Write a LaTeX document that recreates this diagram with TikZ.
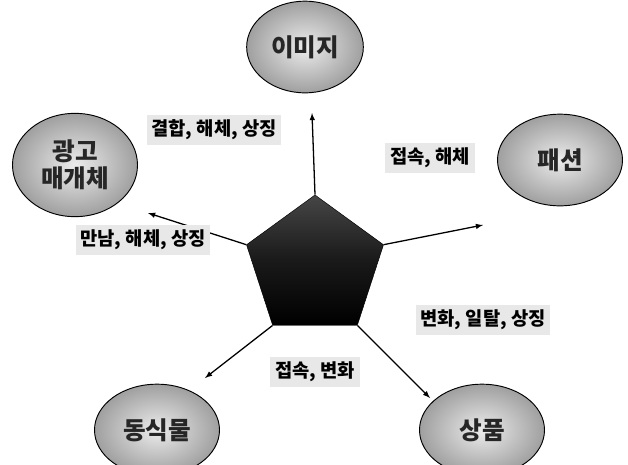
\documentclass[tikz,border=0pt]{standalone}
\usepackage{fontspec}
\setmainfont{Noto Sans CJK KR}
\usetikzlibrary{shapes.geometric}

\tikzset{
  bubble/.style={ellipse, draw=black, thick, inner color=gray!15, outer color=gray!75,
    minimum width=3.75cm, minimum height=2.75cm, font=\fontsize{21}{23}\selectfont\bfseries,
    text=black!85, align=center, inner sep=0pt},
  tag/.style={fill=gray!18, inner sep=4pt, font=\fontsize{16}{18}\selectfont\bfseries},
  link/.style={-latex, line width=1.1pt}
}

\begin{document}
\begin{tikzpicture}[x=0.03cm, y=-0.03cm]
  \useasboundingbox (0,0) rectangle (628,464);

  % centre pentagon
  \node[regular polygon, regular polygon sides=5, minimum size=4.32cm, inner sep=0pt,
        draw=black, top color=gray!55!black, bottom color=black, middle color=black!90] (core) at (315,267) {};

  % outer ellipses
  \node[bubble, minimum width=3.5cm] (image) at (305,47) {이미지};
  \node[bubble] (fashion) at (560,160) {패션};
  \node[bubble, minimum height=3.1cm] (media) at (75,165) {광고\\매개체};
  \node[bubble] (nature) at (157,430) {동식물};
  \node[bubble] (goods) at (482,430) {상품};

  % arrow tips
  \coordinate (tI) at (312,113);
  \coordinate (tF) at (483,225);
  \coordinate (tM) at (148,213);
  \coordinate (tN) at (205,378);
  \coordinate (tG) at (430,398);

  \draw[link] (core.corner 1) -- (tI);
  \draw[link] (core.corner 5) -- (tF);
  \draw[link] (core.corner 2) -- (tM);
  \draw[link] (core.corner 3) -- (tN);
  \draw[link] (core.corner 4) -- (tG);

  % labels
  \node[tag] (lI) at (214,130) {결합, 해체, 상징};
  \node[tag] (lF) at (430,158) {접속, 해체};
  \node[tag] (lM) at (143,240) {만남, 해체, 상징};
  \node[tag] (lG) at (483,320) {변화, 일탈, 상징};
  \node[tag] (lN) at (315,372) {접속, 변화};
\end{tikzpicture}
\end{document}
